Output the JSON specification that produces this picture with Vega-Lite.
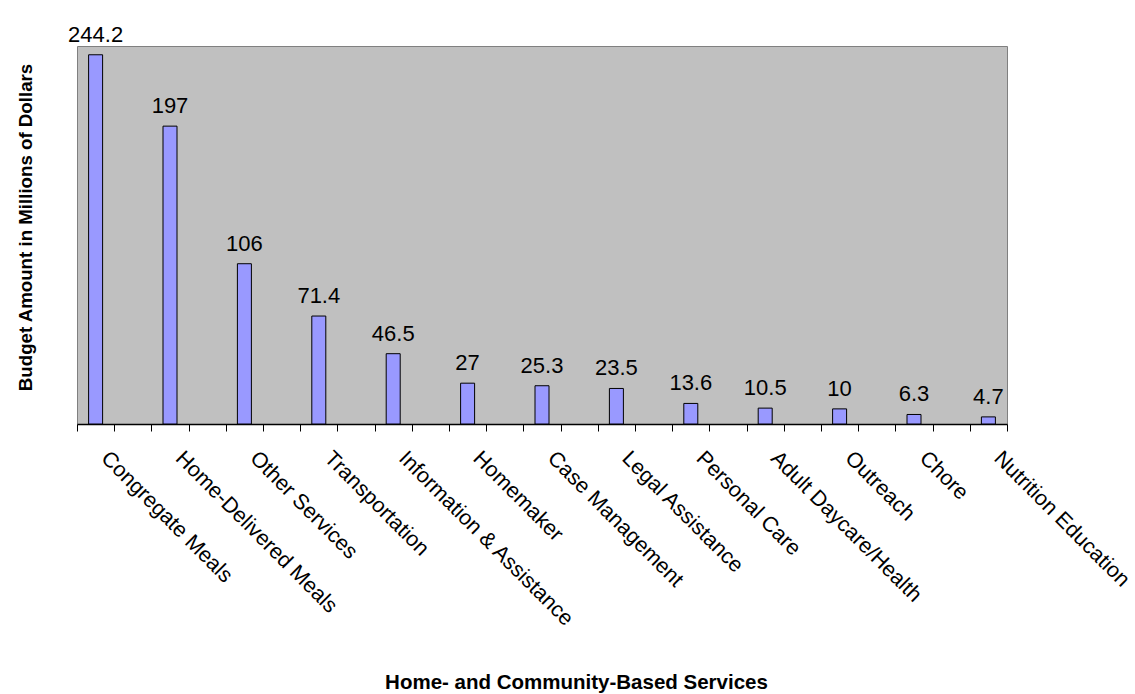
{
  "$schema": "https://vega.github.io/schema/vega-lite/v6.json",
  "width": 930,
  "height": 378,
  "autosize": {"type": "none"},
  "padding": {"left": 77, "top": 46, "right": 128, "bottom": 270},
  "background": "#FFFFFF",
  "config": {
    "font": "Liberation Sans",
    "view": {"stroke": "#808080", "strokeWidth": 1, "fill": "#C0C0C0"}
  },
  "data": {
    "values": [
      {"service": "Congregate Meals", "budget": 244.2},
      {"service": "Home-Delivered Meals", "budget": 197},
      {"service": "Other Services", "budget": 106},
      {"service": "Transportation", "budget": 71.4},
      {"service": "Information & Assistance", "budget": 46.5},
      {"service": "Homemaker", "budget": 27},
      {"service": "Case Management", "budget": 25.3},
      {"service": "Legal Assistance", "budget": 23.5},
      {"service": "Personal Care", "budget": 13.6},
      {"service": "Adult Daycare/Health", "budget": 10.5},
      {"service": "Outreach", "budget": 10},
      {"service": "Chore", "budget": 6.3},
      {"service": "Nutrition Education", "budget": 4.7}
    ]
  },
  "encoding": {
    "x": {
      "field": "service", "type": "nominal", "sort": null,
      "scale": {
        "type": "band",
        "domain": ["Congregate Meals"," ","Home-Delivered Meals","  ","Other Services","   ","Transportation","    ","Information & Assistance","     ","Homemaker","      ","Case Management","       ","Legal Assistance","        ","Personal Care","         ","Adult Daycare/Health","          ","Outreach","           ","Chore","            ","Nutrition Education"],
        "paddingInner": 0,
        "paddingOuter": 0
      },
      "axis": {
        "title": "Home- and Community-Based Services",
        "titleFontSize": 20.5,
        "titleFontWeight": "bold",
        "titleColor": "#000000",
        "titleX": 499,
        "titleY": 264,
        "titleAlign": "center",
        "titleBaseline": "alphabetic",
        "domain": true,
        "domainColor": "#000000",
        "domainWidth": 1.5,
        "grid": false,
        "ticks": true,
        "tickBand": "extent",
        "tickSize": 7,
        "tickColor": "#000000",
        "tickWidth": 1,
        "labelAngle": 45,
        "labelAlign": "left",
        "labelBaseline": "top",
        "labelFontSize": 21.5,
        "labelColor": "#000000",
        "labelOffset": 16,
        "labelPadding": 16,
        "labelLimit": 500,
        "labelOverlap": false
      }
    },
    "y": {
      "field": "budget", "type": "quantitative",
      "scale": {"domain": [0, 250], "nice": false},
      "axis": {
        "title": "Budget Amount in Millions of Dollars",
        "titleFontSize": 18.7,
        "titleFontWeight": "bold",
        "titleColor": "#000000",
        "titleAngle": 270,
        "titleX": -46,
        "titleY": 181,
        "titleAlign": "center",
        "titleBaseline": "alphabetic",
        "labels": false,
        "ticks": false,
        "domain": false,
        "grid": false
      }
    }
  },
  "layer": [
    {
      "mark": {"type": "bar", "fill": "#9999FF", "stroke": "#000000", "strokeWidth": 1, "size": 14}
    },
    {
      "mark": {"type": "text", "fontSize": 22, "color": "#000000", "baseline": "alphabetic", "align": "center", "dy": -13},
      "encoding": {
        "text": {"field": "budget", "type": "nominal"}
      }
    }
  ]
}
